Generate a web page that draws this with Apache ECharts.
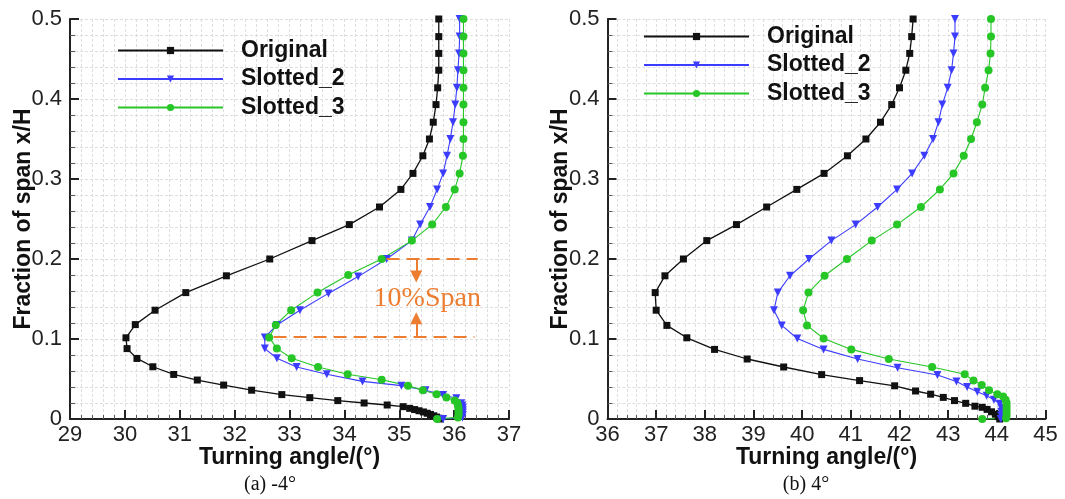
<!DOCTYPE html>
<html>
<head>
<meta charset="utf-8">
<script src="https://cdn.jsdelivr.net/npm/echarts@6/dist/echarts.min.js"></script>
<style>
  html, body { margin: 0; padding: 0; background: #fff; }
  #chart { width: 1065px; height: 499px; }
</style>
</head>
<body>
<div id="chart"></div>
<script>
// ---- (a) -4° : spanwise turning-angle profiles ----
const spanOrigA = [0.5,0.478,0.457,0.436,0.414,0.393,0.371,0.350,0.329,0.307,0.287,0.265,0.243,0.223,0.200,0.179,0.158,0.136,0.118,0.1015,0.088,0.0757,0.0653,0.0557,0.0487,0.0424,0.036,0.0305,0.0267,0.023,0.020,0.0175,0.0154,0.0133,0.0118,0.0103,0.0088,0.0072,0.0056,0.0040,0.0024,0.0010,0];
const angleOrigA = [35.72,35.72,35.72,35.72,35.70,35.67,35.62,35.55,35.43,35.25,35.03,34.64,34.09,33.41,32.64,31.85,31.11,30.55,30.19,30.02,30.04,30.22,30.51,30.89,31.32,31.80,32.31,32.86,33.37,33.88,34.36,34.78,35.07,35.19,35.28,35.36,35.44,35.51,35.57,35.63,35.68,35.72,35.75];

const spanSlot2A = [0.5,0.478,0.457,0.436,0.414,0.393,0.371,0.350,0.329,0.307,0.287,0.265,0.243,0.223,0.200,0.178,0.157,0.136,0.1175,0.102,0.088,0.076,0.065,0.056,0.047,0.0417,0.036,0.030,0.026,0.0196,0.017,0.014,0.011,0.008,0.005,0.002,0];
const angleSlot2A = [36.10,36.10,36.09,36.07,36.05,36.02,35.98,35.93,35.87,35.80,35.69,35.56,35.38,35.23,34.77,34.25,33.71,33.19,32.77,32.55,32.55,32.77,33.13,33.68,34.33,35.04,35.48,35.80,36.04,36.13,36.15,36.16,36.16,36.16,36.16,36.15,35.80];

const spanSlot3A = [0.5,0.478,0.457,0.436,0.414,0.393,0.371,0.350,0.329,0.307,0.287,0.265,0.243,0.223,0.200,0.180,0.158,0.136,0.1175,0.102,0.088,0.076,0.065,0.056,0.049,0.0417,0.036,0.031,0.027,0.023,0.020,0.017,0.014,0.011,0.008,0.005,0.002,0];
const angleSlot3A = [36.17,36.17,36.17,36.17,36.17,36.17,36.17,36.17,36.16,36.10,36.01,35.85,35.60,35.23,34.68,34.07,33.51,33.03,32.75,32.63,32.77,33.04,33.52,34.06,34.68,35.16,35.43,35.68,35.86,36.01,36.06,36.07,36.08,36.08,36.08,36.08,36.07,35.69];

// ---- (b) 4° ----
const spanOrigB = [0.5,0.478,0.457,0.436,0.414,0.393,0.371,0.350,0.329,0.307,0.287,0.265,0.243,0.223,0.200,0.179,0.158,0.136,0.117,0.1015,0.087,0.075,0.065,0.0555,0.048,0.0415,0.035,0.031,0.027,0.023,0.0196,0.016,0.0146,0.012,0.009,0.006,0.003,0];
const angleOrigB = [42.28,42.25,42.21,42.13,42.00,41.84,41.61,41.31,40.93,40.45,39.89,39.27,38.65,38.04,37.56,37.18,36.98,37.00,37.22,37.63,38.20,38.87,39.62,40.40,41.18,41.90,42.33,42.64,42.90,43.13,43.36,43.55,43.70,43.80,43.89,43.97,44.03,44.06];

const spanSlot2B = [0.5,0.478,0.457,0.436,0.414,0.393,0.371,0.350,0.329,0.307,0.287,0.265,0.243,0.223,0.200,0.179,0.158,0.136,0.117,0.1006,0.087,0.075,0.064,0.055,0.047,0.040,0.034,0.029,0.024,0.019,0.014,0.009,0.004,0];
const angleSlot2B = [43.14,43.14,43.11,43.07,42.99,42.88,42.80,42.69,42.51,42.26,41.95,41.55,41.10,40.60,40.14,39.75,39.50,39.42,39.58,39.90,40.44,41.14,41.96,42.78,43.17,43.39,43.60,43.79,43.94,44.06,44.09,44.09,44.09,44.08];

const spanSlot3B = [0.5,0.478,0.457,0.436,0.414,0.393,0.371,0.350,0.329,0.307,0.287,0.265,0.243,0.223,0.200,0.179,0.158,0.136,0.117,0.1006,0.087,0.075,0.065,0.056,0.048,0.0425,0.036,0.031,0.028,0.024,0.020,0.016,0.012,0.008,0.004,0.001,0];
const angleSlot3B = [43.88,43.88,43.87,43.83,43.76,43.70,43.59,43.47,43.32,43.11,42.83,42.44,41.95,41.43,40.92,40.46,40.13,40.02,40.10,40.44,41.01,41.78,42.67,43.34,43.52,43.69,43.84,44.01,44.13,44.18,44.20,44.20,44.20,44.20,44.20,44.19,43.70];

// axis ranges and labels
const angleRangeA = [29, 37];
const angleRangeB = [36, 45];
const spanRange = [0, 0.5];
const seriesNames = ['Original', 'Slotted_2', 'Slotted_3'];
const captions = ['(a) -4°', '(b) 4°'];
const xTitle = 'Turning angle/(°)';
const yTitle = 'Fraction of span x/H';

// 10% span annotation in panel (a)
const bandSpans = [0.2009, 0.103];        // upper / lower dashed levels
const bandUpperFrom = 34.77, bandLowerFrom = 32.71, bandUpperTo = 36.43, bandLowerTo = 36.37;
const arrowAngle = 35.31;
const arrowTips = [0.178, 0.126];         // arrow heads (down / up)
const bandLabel = '10%Span';
const bandLabelAt = [35.51, 0.151];

const SANS = '"Liberation Sans", Arial, sans-serif';
const SERIF = '"Liberation Serif", "Times New Roman", serif';
const ORANGE = '#ed7d31';
const GRID_LINE = { color: '#dedede', width: 1, type: [3, 2] };

const styles = {
  Original:  { color: '#111111', symbol: 'rect',     size: 7, rotate: 0,   width: 1.3 },
  Slotted_2: { color: '#3c3cff', symbol: 'triangle', size: 8, rotate: 180, width: 1.1 },
  Slotted_3: { color: '#26c626', symbol: 'circle',   size: 8, rotate: 0,   width: 1.1 }
};

function xAxisFor(grid, range) {
  return {
    type: 'value', gridIndex: grid, min: range[0], max: range[1], interval: 1,
    name: xTitle, nameLocation: 'middle', nameGap: 27, nameMoveOverlap: false,
    nameTextStyle: { fontFamily: SANS, fontSize: 23, fontWeight: 'bold', color: '#111' },
    axisLine: { show: true, onZero: false, lineStyle: { color: '#222', width: 2 } },
    axisTick: { show: true, inside: true, length: 9, lineStyle: { color: '#222', width: 2 } },
    minorTick: { show: true, splitNumber: 5, length: 4, lineStyle: { color: '#555', width: 1 } },
    axisLabel: { fontFamily: SANS, fontSize: 22, color: '#222', margin: 5 },
    splitLine: { show: true, lineStyle: GRID_LINE },
    minorSplitLine: { show: true, lineStyle: GRID_LINE }
  };
}

function yAxisFor(grid) {
  return {
    type: 'value', gridIndex: grid, min: spanRange[0], max: spanRange[1], interval: 0.1,
    name: yTitle, nameLocation: 'middle', nameRotate: 90, nameGap: 35, nameMoveOverlap: false,
    nameTextStyle: { fontFamily: SANS, fontSize: 23, fontWeight: 'bold', color: '#111' },
    axisLine: { show: true, onZero: false, lineStyle: { color: '#222', width: 2 } },
    axisTick: { show: true, inside: true, length: 9, lineStyle: { color: '#222', width: 2 } },
    minorTick: { show: true, splitNumber: 5, length: 5, lineStyle: { color: '#555', width: 1 } },
    axisLabel: { fontFamily: SANS, fontSize: 22, color: '#222', margin: 8 },
    splitLine: { show: true, lineStyle: GRID_LINE },
    minorSplitLine: { show: true, lineStyle: GRID_LINE }
  };
}

function lineSeries(name, grid, angles, spans, extra) {
  const s = styles[name];
  return Object.assign({
    name, type: 'line', xAxisIndex: grid, yAxisIndex: grid,
    data: angles.map((a, i) => [a, spans[i]]),
    symbol: s.symbol, symbolSize: s.size, symbolRotate: s.rotate,
    showAllSymbol: true, clip: false, smooth: false,
    lineStyle: { color: s.color, width: s.width },
    itemStyle: { color: s.color },
    emphasis: { disabled: true }
  }, extra || {});
}

function legendFor(left, top) {
  return {
    left, top, orient: 'vertical', selectedMode: false, padding: 0,
    itemWidth: 105, itemHeight: 9, itemGap: 5.5,
    textStyle: { fontFamily: SANS, fontSize: 23, fontWeight: 'bold', color: '#111', padding: [0, 0, 0, 13] },
    data: seriesNames
  };
}

const SOLID_ORANGE = { type: 'solid', color: ORANGE, width: 2 };
const bandAnnotation = {
  markLine: {
    silent: true, animation: false, symbol: ['none', 'none'], label: { show: false },
    lineStyle: { color: ORANGE, width: 2, type: [13, 7] },
    emphasis: { disabled: true },
    data: [
      [{ coord: [bandUpperFrom, bandSpans[0]] }, { coord: [bandUpperTo, bandSpans[0]] }],
      [{ coord: [bandLowerFrom, bandSpans[1]] }, { coord: [bandLowerTo, bandSpans[1]] }],
      [{ coord: [arrowAngle, bandSpans[0]], lineStyle: SOLID_ORANGE },
       { coord: [arrowAngle, arrowTips[0]], symbol: 'triangle', symbolSize: 12, lineStyle: SOLID_ORANGE }],
      [{ coord: [arrowAngle, bandSpans[1]], lineStyle: SOLID_ORANGE },
       { coord: [arrowAngle, arrowTips[1]], symbol: 'triangle', symbolSize: 12, lineStyle: SOLID_ORANGE }]
    ]
  },
  markPoint: {
    silent: true, animation: false, symbol: 'circle', symbolSize: 1,
    itemStyle: { color: 'rgba(0,0,0,0)' },
    data: [{
      coord: bandLabelAt,
      label: { show: true, position: 'inside', formatter: bandLabel, fontFamily: SERIF, fontSize: 28, color: ORANGE }
    }]
  }
};

const option = {
  animation: false,
  backgroundColor: '#fff',
  grid: [
    { left: 70, top: 19, width: 439, height: 400, outerBoundsMode: 'none', containLabel: false },
    { left: 607.5, top: 19, width: 438, height: 400, outerBoundsMode: 'none', containLabel: false }
  ],
  xAxis: [xAxisFor(0, angleRangeA), xAxisFor(1, angleRangeB)],
  yAxis: [yAxisFor(0), yAxisFor(1)],
  legend: [legendFor(117, 39), legendFor(643, 25)],
  series: [
    lineSeries('Original', 0, angleOrigA, spanOrigA),
    lineSeries('Slotted_2', 0, angleSlot2A, spanSlot2A),
    lineSeries('Slotted_3', 0, angleSlot3A, spanSlot3A, bandAnnotation),
    lineSeries('Original', 1, angleOrigB, spanOrigB),
    lineSeries('Slotted_2', 1, angleSlot2B, spanSlot2B),
    lineSeries('Slotted_3', 1, angleSlot3B, spanSlot3B)
  ],
  graphic: [
    { type: 'text', x: 270, y: 485, style: { text: captions[0], font: '20px ' + SERIF, fill: '#111', align: 'center', verticalAlign: 'middle' } },
    { type: 'text', x: 806, y: 485, style: { text: captions[1], font: '20px ' + SERIF, fill: '#111', align: 'center', verticalAlign: 'middle' } }
  ]
};

const chart = echarts.init(document.getElementById('chart'), null, { renderer: 'canvas' });
chart.setOption(option);
</script>
</body>
</html>
